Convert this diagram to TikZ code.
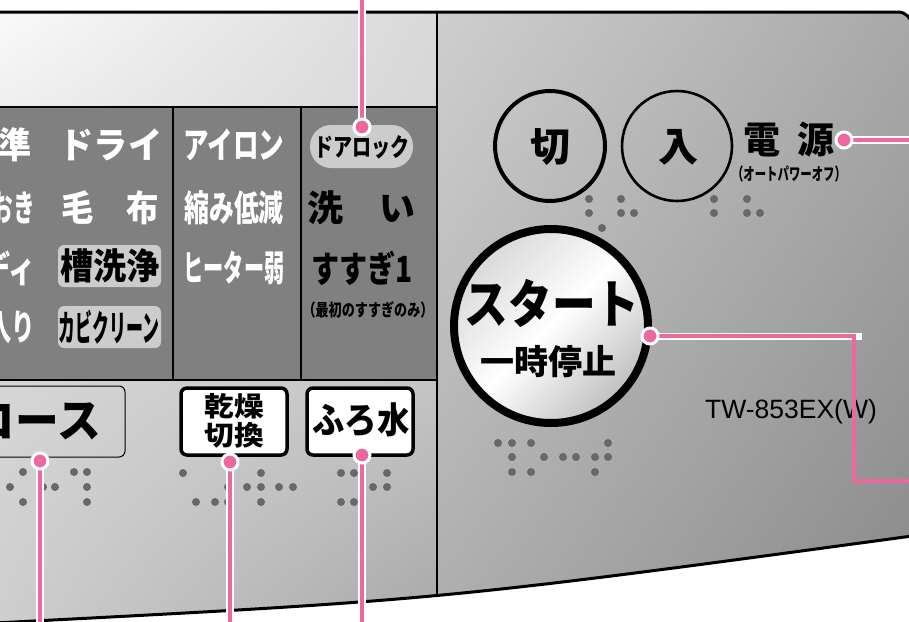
\documentclass[tikz,border=0pt]{standalone}
\usepackage{fontspec}
\usepackage{xcolor}
\usetikzlibrary{shadings}
\setmainfont{Liberation Sans}
\newfontfamily\jp{Noto Sans CJK JP}
\definecolor{pinkline}{RGB}{236,104,158}
\definecolor{band}{RGB}{128,128,128}
\definecolor{dotgray}{RGB}{104,104,104}
\definecolor{keygray}{RGB}{204,204,204}
\newcommand{\fsz}[1]{\fontsize{#1}{#1}\selectfont}
\tikzset{
  lbl/.style={inner sep=0pt, font=\jp\bfseries\fsz{36}},
  wlbl/.style={lbl, text=white},
  keybox/.style={fill=keygray, rounded corners=6pt},
  whitekey/.style={fill=white, draw=black, line width=3.5pt, rounded corners=6pt},
  rim/.style={draw=black, line width=1.2pt},
  callout/.style={draw=white, line width=2pt, double=pinkline, double distance=3.5pt},
  pinkdot/.style={circle, fill=pinkline, draw=white, line width=3pt, minimum size=16pt, inner sep=0pt},
  roundkey/.style={circle, draw=black, minimum size=110pt, inner sep=0pt}
}
\begin{document}
\begin{tikzpicture}[x=1pt,y=-1pt]
\useasboundingbox (0,0) rectangle (909,621);
\begin{scope}
\clip (0,0) rectangle (909,621);
% panel face
\begin{scope}
\clip (-5,12) {[rounded corners=14pt] -- (912,12) -- (912,200)} -- (912,536) .. controls (440,600) .. (-5,623) -- cycle;
\shade[upper left=white!98!black, upper right=white!85!black, lower left=white!94!black, lower right=white!84!black] (-5,12) rectangle (437,107);
\shade[upper left=white!84!black, upper right=white!77!black, lower left=white!81!black, lower right=white!66!black] (-5,380) rectangle (437,625);
\shade[upper left=white!81!black, upper right=white!66!black, lower left=white!68!black, lower right=white!54!black] (437,12) rectangle (912,625);
\fill[band] (-5,107) rectangle (437,380);
\draw[rim] (-5,107) -- (437,107);
\draw[rim] (-5,380) -- (437,380);
\draw[rim] (173,107) -- (173,380);
\draw[rim] (301,107) -- (301,380);
\draw[rim] (437,12) -- (437,625);
\end{scope}
\draw[line width=3pt] (-5,12) {[rounded corners=14pt] -- (912,12) -- (912,200)} -- (912,536) .. controls (440,600) .. (-5,623);

% course keys in the band
\node[wlbl, anchor=east, xscale=0.92] (std) at (32,145) {準};
\node[wlbl, anchor=east, xscale=0.6] (soak) at (35,208) {おき};
\node[wlbl, anchor=east, xscale=0.75] (body) at (36,268) {ディ};
\node[wlbl, anchor=east, xscale=0.65] (inside) at (35,327) {入り};
\node[wlbl, xscale=0.95] (dry) at (111,145) {ドライ};
\node[wlbl, xscale=0.9] (blanket) at (110,208) {毛　布};
\node[keybox, minimum width=103pt, minimum height=42pt] (tubbox) at (109.5,266) {};
\node[lbl, xscale=0.92] (tub) at (110,266) {槽洗浄};
\node[keybox, minimum width=103pt, minimum height=42pt] (moldbox) at (109.5,327) {};
\node[lbl, xscale=0.47] (mold) at (109,327) {カビクリーン};
\node[wlbl, xscale=0.71] (iron) at (234,145) {アイロン};
\node[wlbl, xscale=0.69] (shrink) at (234,208) {縮み低減};
\node[wlbl, xscale=0.56] (heater) at (234,268) {ヒーター弱};
\node[keybox, rounded corners=21pt, minimum width=103pt, minimum height=43pt] (lockbox) at (361.5,146.5) {};
\node[lbl, font=\jp\bfseries\fsz{25}, xscale=0.76] (lock) at (362,147) {ドアロック};
\node[lbl] (wash) at (361,208) {洗　い};
\node[lbl, xscale=0.78] (rinse) at (362,268) {すすぎ1};
\node[lbl, font=\jp\bfseries\fsz{17}, xscale=0.77] (firstonly) at (368,310) {（最初のすすぎのみ）};

% lower keys
\node[draw=black, line width=1pt, rounded corners=6pt, minimum width=145pt, minimum height=71pt] (coursebox) at (52.5,421.5) {};
\node[lbl, font=\jp\bfseries\fsz{46}, anchor=east, xscale=0.95] (course) at (101,421) {コース};
\node[whitekey, minimum width=106pt, minimum height=67pt] (drybox) at (234,421.5) {};
\node[lbl, font=\jp\bfseries\fsz{27}, align=center, xscale=1.1] (dryswitch) at (234,421) {乾燥\\[2pt]切換};
\node[whitekey, minimum width=106pt, minimum height=67pt] (bathbox) at (360,421.5) {};
\node[lbl, xscale=0.9] (bath) at (361,420) {ふろ水};

% power and start
\node[roundkey, line width=4pt] (off) at (550,146) {};
\node[lbl, font=\jp\bfseries\fsz{40}] (offtxt) at (550,147) {切};
\node[roundkey, line width=2.6pt] (on) at (677,146) {};
\node[lbl, font=\jp\bfseries\fsz{40}] (ontxt) at (678,147) {入};
\node[lbl, font=\jp\bfseries\fsz{37}] (power) at (789,140) {電\hspace{0.45em}源};
\node[lbl, font=\jp\bfseries\fsz{17}, xscale=0.67] (autooff) at (789,174) {（オートパワーオフ）};
\node[circle, draw=black, line width=8pt, minimum size=194pt, inner sep=0pt,
  left color=white!85!black, right color=white!75!black, middle color=white, shading angle=45] (start) at (551,326) {};
\node[lbl, font=\jp\bfseries\fsz{52}, xscale=0.84] (starttxt) at (552,303) {スタート};
\node[lbl, font=\jp\bfseries\fsz{34}] (pause) at (548,362) {一時停止};
\node[inner sep=0pt, font=\fontsize{26.5}{26.5}\selectfont] (model) at (791,412) {TW-853EX(W)};

% braille
\foreach \x/\y in {23/472,10/487,23/502,43/487,55/487,74/472,87/472,87/487,87/502,
  183/473,196/502,215/502,228/487,228/502,247/487,261/473,261/487,261/502,279/487,293/487,
  341/473,354/473,341/502,354/502,387/473,373/487,387/487,
  589/199,589/213,602/228,621/199,621/213,634/213,714/199,714/213,747/199,747/213,760/213,
  498/443,512/443,531/443,608/443,512/457,544/457,563/457,576/457,595/457,608/457,512/472,531/472,595/472}
  \fill[dotgray] (\x,\y) circle (4);

% callouts
\coordinate (pDoor) at (362,127);
\coordinate (eDoor) at (362,-5);
\coordinate (pCourse) at (40,461);
\coordinate (eCourse) at (40,626);
\coordinate (pDry) at (230,462);
\coordinate (eDry) at (230,626);
\coordinate (pBath) at (362,455);
\coordinate (eBath) at (362,626);
\coordinate (pPower) at (844,140);
\coordinate (ePower) at (915,140);
\coordinate (pStart) at (650,336);
\coordinate (bendA) at (854,336);
\coordinate (bendB) at (854,481);
\coordinate (eStart) at (915,481);
\draw[callout] (pDoor) -- (eDoor);
\draw[callout] (pCourse) -- (eCourse);
\draw[callout] (pDry) -- (eDry);
\draw[callout] (pBath) -- (eBath);
\draw[callout] (pPower) -- (ePower);
\draw[white, line width=7pt] (pStart) -- ([xshift=8pt]bendA);
\draw[pinkline, line width=3.5pt] (pStart) -- (bendA) -- (bendB) -- (eStart);
\foreach \d in {pDoor,pCourse,pDry,pBath,pPower,pStart}
  \node[pinkdot] (dot\d) at (\d) {};
\end{scope}
\end{tikzpicture}
\end{document}
